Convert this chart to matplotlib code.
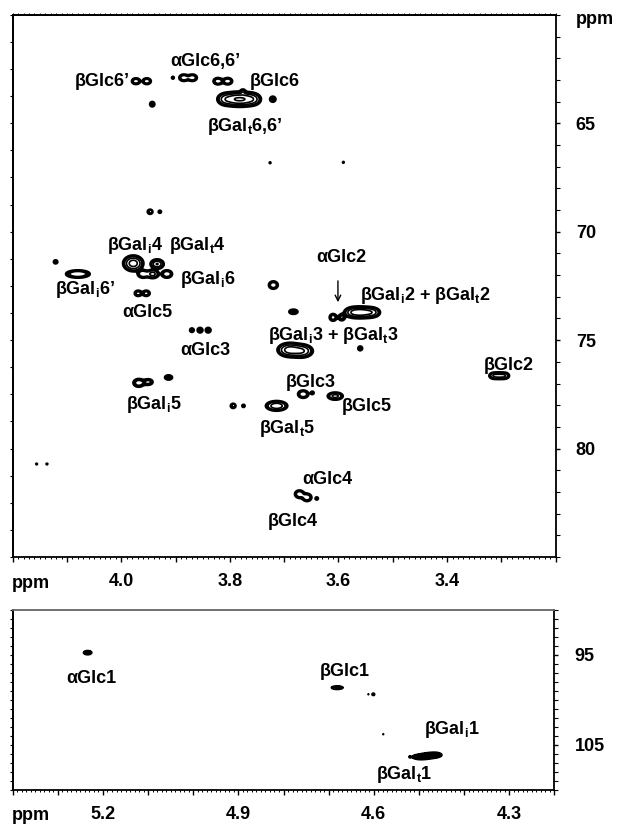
import numpy as np
import matplotlib
matplotlib.use("Agg")
import matplotlib.pyplot as plt
from matplotlib.ticker import MultipleLocator, FixedLocator, FuncFormatter

plt.rcParams['font.family'] = ['Liberation Sans', 'DejaVu Sans']
plt.rcParams['font.weight'] = 'bold'
plt.rcParams['mathtext.fontset'] = 'custom'
plt.rcParams['mathtext.rm'] = 'Liberation Sans:bold'
plt.rcParams['mathtext.it'] = 'Liberation Sans:bold'
plt.rcParams['mathtext.bf'] = 'Liberation Sans:bold'
plt.rcParams['mathtext.default'] = 'rm'

# ---- cross peaks, upper panel (1H ppm, 13C ppm, widths in ppm, height) ----
top_h = [3.973, 3.953, 3.943, 3.905, 3.885, 3.869, 3.822, 3.804,
         3.807, 3.790, 3.775, 3.759, 3.776, 3.721, 3.726, 3.591,
         3.947, 3.929, 4.121, 3.978, 3.934, 4.080, 3.960, 3.942,
         3.916, 3.720, 3.969, 3.954, 3.683, 3.610, 3.594, 3.572,
         3.557, 3.540, 3.870, 3.855, 3.840, 3.690, 3.668, 3.560,
         3.314, 3.304, 3.294, 3.968, 3.950, 3.913, 3.665, 3.648,
         3.606, 3.794, 3.775, 3.714, 4.156, 4.137, 3.672, 3.658,
         3.640]
top_c = [63.06, 63.06, 64.12, 62.90, 62.90, 62.90, 63.06, 63.06,
         63.89, 63.89, 63.89, 63.89, 63.55, 63.89, 66.82, 66.80,
         69.08, 69.08, 71.39, 71.46, 71.49, 71.95, 71.95, 71.95,
         71.95, 72.46, 72.84, 72.84, 73.69, 73.95, 73.95, 73.72,
         73.72, 73.72, 74.54, 74.54, 74.54, 75.45, 75.50, 75.38,
         76.64, 76.64, 76.64, 76.97, 76.93, 76.72, 77.49, 77.43,
         77.58, 78.03, 78.03, 78.03, 80.71, 80.71, 82.10, 82.25,
         82.30]
top_wh = [0.005, 0.005, 0.0038, 0.0028, 0.0055, 0.0055, 0.0055, 0.0055,
          0.009, 0.009, 0.009, 0.009, 0.003, 0.0042, 0.002, 0.002,
          0.004, 0.003, 0.0035, 0.0092, 0.0064, 0.0147, 0.0064, 0.0064,
          0.0064, 0.0055, 0.0046, 0.0046, 0.0064, 0.0046, 0.0046, 0.0092,
          0.0092, 0.0092, 0.0037, 0.0037, 0.0037, 0.011, 0.011, 0.0037,
          0.0055, 0.0055, 0.0055, 0.0070, 0.0060, 0.0055, 0.0064, 0.003,
          0.0083, 0.004, 0.003, 0.011, 0.002, 0.002, 0.0055, 0.0055,
          0.003]
top_wc = [0.09, 0.09, 0.10, 0.07, 0.10, 0.10, 0.10, 0.10,
          0.16, 0.16, 0.16, 0.16, 0.08, 0.10, 0.05, 0.05,
          0.09, 0.07, 0.08, 0.18, 0.115, 0.115, 0.115, 0.115,
          0.115, 0.115, 0.09, 0.09, 0.083, 0.115, 0.115, 0.13,
          0.13, 0.13, 0.09, 0.09, 0.09, 0.16, 0.16, 0.09,
          0.092, 0.092, 0.092, 0.13, 0.10, 0.083, 0.115, 0.07,
          0.10, 0.09, 0.07, 0.125, 0.04, 0.04, 0.115, 0.115,
          0.07]
top_amp = [3.0, 3.0, 1.7, 1.2, 3.0, 3.0, 3.0, 3.0,
           5.0, 8.0, 8.0, 5.0, 2.0, 2.0, 1.1, 1.1,
           1.8, 1.3, 1.5, 8.0, 6.0, 3.0, 3.0, 4.0,
           3.0, 3.0, 2.5, 2.5, 2.0, 2.5, 2.0, 6.0,
           7.0, 5.0, 1.5, 2.0, 2.0, 8.0, 6.0, 1.6,
           3.0, 3.0, 3.0, 2.6, 2.2, 2.0, 3.0, 1.3,
           4.0, 1.8, 1.3, 5.0, 1.1, 1.1, 3.0, 3.0,
           1.3]

# ---- cross peaks, anomeric panel ----
bot_h = [5.234, 4.681, 4.612, 4.601, 4.579, 4.520, 4.497, 4.480, 4.464]
bot_c = [94.74, 98.63, 99.37, 99.37, 103.81, 106.33, 106.33, 106.20, 106.11]
bot_wh = [0.0078, 0.011, 0.002, 0.0033, 0.002, 0.002, 0.012, 0.010, 0.010]
bot_wc = [0.20, 0.17, 0.10, 0.15, 0.10, 0.10, 0.20, 0.20, 0.20]
bot_amp = [2.0, 2.0, 1.1, 1.5, 1.1, 1.1, 3.0, 3.0, 3.0]

# ---- assignments ----
top_labels = ["βGlc6’", "αGlc6,6’", "βGlc6", r"βGal$_{t}$6,6’",
              r"βGal$_{i}$4", r"βGal$_{t}$4", r"βGal$_{i}$6", r"βGal$_{i}$6’",
              "αGlc5", "αGlc3", "αGlc2", r"βGal$_{i}$2 + βGal$_{t}$2",
              r"βGal$_{i}$3 + βGal$_{t}$3", "βGlc2", "βGlc3", r"βGal$_{i}$5",
              "βGlc5", r"βGal$_{t}$5", "αGlc4", "βGlc4"]
top_lab_h = [4.036, 3.846, 3.717, 3.772, 3.975, 3.859, 3.841, 4.067,
             3.952, 3.846, 3.595, 3.439, 3.610, 3.286, 3.651, 3.940,
             3.548, 3.694, 3.620, 3.684]
top_lab_c = [63.09, 62.17, 63.09, 65.16, 70.62, 70.62, 72.20, 72.66,
             73.74, 75.49, 71.17, 72.92, 74.77, 76.15, 76.97, 77.95,
             78.07, 79.07, 81.41, 83.37]

bot_labels = ["αGlc1", "βGlc1", r"βGal$_{i}$1", r"βGal$_{t}$1"]
bot_lab_h = [5.226, 4.664, 4.427, 4.533]
bot_lab_c = [97.59, 96.78, 103.33, 108.26]

levels = [1.0, 1.8, 3.2, 5.8, 10.5]


def spectrum(hgrid, cgrid, hs, cs, whs, wcs, amps):
    z = np.zeros((len(cgrid), len(hgrid)))
    for h0, c0, wh, wc, a in zip(hs, cs, whs, wcs, amps):
        gx = np.exp(-0.5 * ((hgrid - h0) / wh) ** 2)
        gy = np.exp(-0.5 * ((cgrid - c0) / wc) ** 2)
        z += a * np.outer(gy, gx)
    return z


fig = plt.figure(figsize=(6.17, 8.24), dpi=100)
ax1 = fig.add_axes([0.0206, 0.324, 0.880, 0.658])
ax2 = fig.add_axes([0.0206, 0.0413, 0.8778, 0.2184])

# upper panel: thick lowest contour, thinner inner levels
hg = np.linspace(3.2, 4.2, 1600)
cg = np.linspace(60, 85, 1200)
z1 = spectrum(hg, cg, top_h, top_c, top_wh, top_wc, top_amp)
ax1.contourf(hg, cg, z1, levels=[levels[0], 1.5], colors='k')
ax1.contour(hg, cg, z1, levels=levels[:1], colors='k', linewidths=1.9)
ax1.contour(hg, cg, z1, levels=levels[1:], colors='k', linewidths=1.2)
ax1.set_xlim(4.2, 3.2)
ax1.set_ylim(85, 60)
for t, h, c in zip(top_labels, top_lab_h, top_lab_c):
    ax1.text(h, c, t, ha='center', va='center', fontsize=13, fontweight='bold')
ax1.annotate('', xy=(3.601, 73.38), xytext=(3.601, 72.14),
             arrowprops=dict(arrowstyle='->', lw=1.0, color='k'))

# lower panel: peaks drawn solid
hg2 = np.linspace(4.2, 5.4, 1600)
cg2 = np.linspace(90, 110, 600)
z2 = spectrum(hg2, cg2, bot_h, bot_c, bot_wh, bot_wc, bot_amp)
ax2.contourf(hg2, cg2, z2, levels=[levels[0], 1e6], colors='k')
ax2.contour(hg2, cg2, z2, levels=[levels[0]], colors='k', linewidths=1.2)
ax2.set_xlim(5.4, 4.2)
ax2.set_ylim(110, 90)
for t, h, c in zip(bot_labels, bot_lab_h, bot_lab_c):
    ax2.text(h, c, t, ha='center', va='center', fontsize=13, fontweight='bold')


def fmt_top(v, p):
    return f'{v:.1f}' if int(round(v * 10)) in (40, 38, 36, 34) else ''


def fmt_bot(v, p):
    return f'{v:.1f}' if int(round(v * 10)) in (52, 49, 46, 43) else ''


for ax, fmt, ymaj, yminor, lcol in [(ax1, fmt_top, [65, 70, 75, 80], 1.0, 1.25),
                                     (ax2, fmt_bot, [95, 105], 1.0, 1.0)]:
    ax.xaxis.set_major_locator(MultipleLocator(0.1))
    ax.xaxis.set_minor_locator(MultipleLocator(0.01))
    ax.xaxis.set_major_formatter(FuncFormatter(fmt))
    ax.tick_params(axis='x', which='major', direction='out', length=3.8,
                   width=1.0, pad=8, labelsize=13)
    ax.tick_params(axis='x', which='minor', direction='out', length=1.5, width=0.7)
    ax.yaxis.tick_right()
    ax.yaxis.set_major_locator(FixedLocator(ymaj))
    ax.yaxis.set_minor_locator(MultipleLocator(yminor))
    ax.tick_params(axis='y', which='major', direction='out', length=3,
                   width=1.0, pad=11.5, labelsize=13)
    ax.tick_params(axis='y', which='minor', direction='out', length=3, width=0.8)
    for s in ax.spines.values():
        s.set_linewidth(1.3)
    sec = ax.secondary_yaxis('left')
    sec.yaxis.set_major_locator(MultipleLocator(lcol))
    sec.tick_params(axis='y', direction='out', length=2.2, width=0.8, labelleft=False)
    sec.spines['left'].set_linewidth(1.3)

# fine ticks along the top edge of the upper panel
topx = ax1.secondary_xaxis('top')
topx.xaxis.set_major_locator(MultipleLocator(0.01))
topx.tick_params(axis='x', direction='out', length=1.2, width=0.7, labeltop=False)
topx.spines['top'].set_linewidth(1.3)
ax2.spines['top'].set_color('#666666')

fig.text(31 / 617, 1 - 583 / 824, 'ppm', ha='center', va='center', fontsize=13, fontweight='bold')
fig.text(31 / 617, 1 - 815 / 824, 'ppm', ha='center', va='center', fontsize=13, fontweight='bold')
fig.text(576 / 617, 1 - 20 / 824, 'ppm', ha='left', va='center', fontsize=13, fontweight='bold')

fig.savefig('out.png', dpi=100)
